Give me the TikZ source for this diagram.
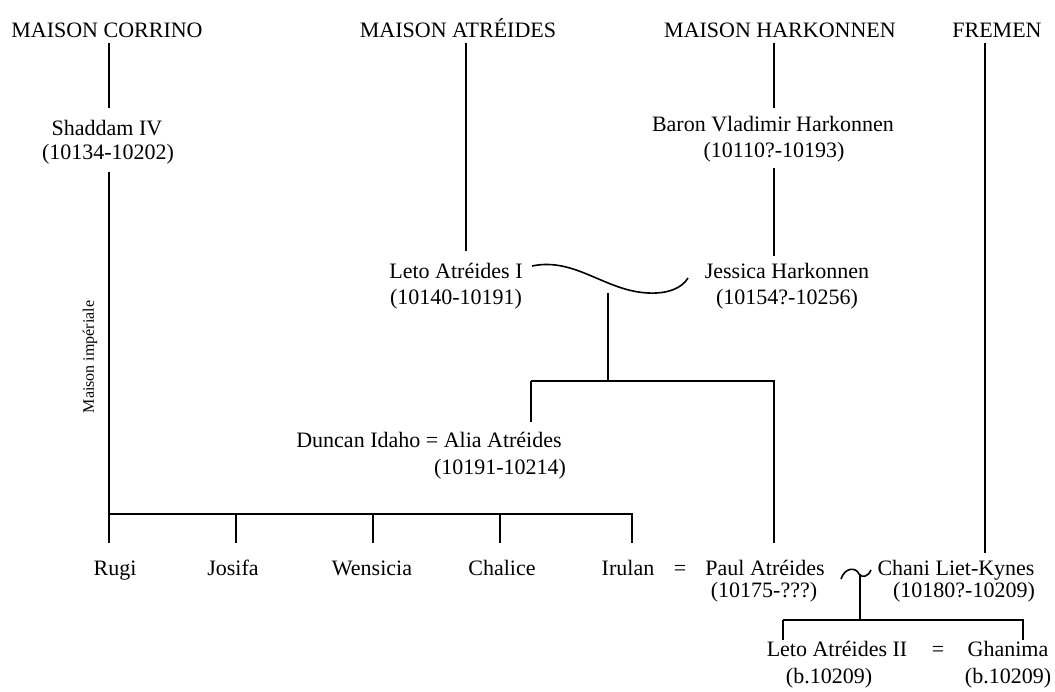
\documentclass[tikz,border=0pt]{standalone}
\usepackage{fontspec}
\setmainfont{Liberation Serif}
\begin{document}
\begin{tikzpicture}[x=1pt,y=-1pt,
  lbl/.style={inner sep=0pt, anchor=base, font=\fontsize{22}{26}\selectfont},
  conn/.style={draw, line width=1.6pt}]
\useasboundingbox (0,0) rectangle (1055,692);
% headers
\node[lbl] (hC) at (107,38) {MAISON CORRINO};
\node[lbl] (hA) at (458,38) {MAISON ATRÉIDES};
\node[lbl] (hH) at (780,38) {MAISON HARKONNEN};
\node[lbl] (hF) at (997,38) {FREMEN};
% people
\node[lbl] (shN) at (107,136) {Shaddam IV};
\node[lbl] (shD) at (108,160) {(10134-10202)};
\node[lbl] (baN) at (773,132) {Baron Vladimir Harkonnen};
\node[lbl] (baD) at (774,158) {(10110?-10193)};
\node[lbl] (l1N) at (456,279) {Leto Atréides I};
\node[lbl] (l1D) at (456,305) {(10140-10191)};
\node[lbl] (jeN) at (787,279) {Jessica Harkonnen};
\node[lbl] (jeD) at (787,305) {(10154?-10256)};
\node[lbl] (duN) at (429,447) {Duncan Idaho = Alia Atréides};
\node[lbl] (duD) at (500,475) {(10191-10214)};
\node[lbl] (ru) at (115,575) {Rugi};
\node[lbl] (jo) at (233,575) {Josifa};
\node[lbl] (we) at (372,575) {Wensicia};
\node[lbl] (ch) at (502,575) {Chalice};
\node[lbl] (ir) at (628,575) {Irulan};
\node[lbl] (eq1) at (680,575) {=};
\node[lbl] (paN) at (765,575) {Paul Atréides};
\node[lbl] (paD) at (764,597) {(10175-???)};
\node[lbl] (cnN) at (956,575) {Chani Liet-Kynes};
\node[lbl] (cnD) at (964,597) {(10180?-10209)};
\node[lbl] (l2N) at (837,656) {Leto Atréides II};
\node[lbl] (eq2) at (938,656) {=};
\node[lbl] (l2D) at (829,683) {(b.10209)};
\node[lbl] (ghN) at (1008,656) {Ghanima};
\node[lbl] (ghD) at (1008,683) {(b.10209)};
\node[rotate=90, inner sep=0pt, font=\fontsize{16}{18}\selectfont] (mi) at (90,357) {Maison impériale};
% connector coordinates
\coordinate (c1a) at (109,43);  \coordinate (c1b) at (109,108);
\coordinate (c2a) at (109,172); \coordinate (jR) at (109,514);
\coordinate (jI) at (632,514);
\coordinate (jJ) at (236,514); \coordinate (jW) at (373,514); \coordinate (jCh) at (500,514);
\coordinate (a1) at (466,43);   \coordinate (a2) at (466,251);
\coordinate (h1) at (774,43);   \coordinate (h2) at (774,108);
\coordinate (h3) at (774,168);  \coordinate (h4) at (774,256);
\coordinate (f1) at (985,43);   \coordinate (f2) at (985,553);
\coordinate (m1) at (532,266);  \coordinate (m2) at (688,278);
\coordinate (mk) at (608,293);  \coordinate (mj) at (608,381);
\coordinate (kL) at (531,381);  \coordinate (kR) at (774,381);
\coordinate (p1) at (841,579);  \coordinate (p2) at (871,570);
\coordinate (pk) at (860,575);  \coordinate (pj) at (860,620);
\coordinate (qL) at (783,620);  \coordinate (qR) at (1023,620);
% lines
\draw[conn] (c1a) -- (c1b);
\draw[conn] (c2a) -- (jR) -- (jI) -- ++(0,29);
\draw[conn] (jR) -- ++(0,29);
\draw[conn] (jJ) -- ++(0,29);
\draw[conn] (jW) -- ++(0,29);
\draw[conn] (jCh) -- ++(0,29);
\draw[conn] (a1) -- (a2);
\draw[conn] (h1) -- (h2);
\draw[conn] (h3) -- (h4);
\draw[conn] (f1) -- (f2);
\draw[conn] (m1) .. controls (575,257) and (605,291) .. (648,293) .. controls (668,294) and (682,288) .. (m2);
\draw[conn] (mk) -- (mj);
\draw[conn] (kL) -- ++(0,41);
\draw[conn] (kL) -- (kR) -- ++(0,162);
\draw[conn] (p1) .. controls (845,567) and (856,567) .. (859,574) .. controls (862,578) and (868,577) .. (p2);
\draw[conn] (pk) -- (pj);
\draw[conn] (qL) -- ++(0,20);
\draw[conn] (qL) -- (qR) -- ++(0,20);
\end{tikzpicture}
\end{document}
